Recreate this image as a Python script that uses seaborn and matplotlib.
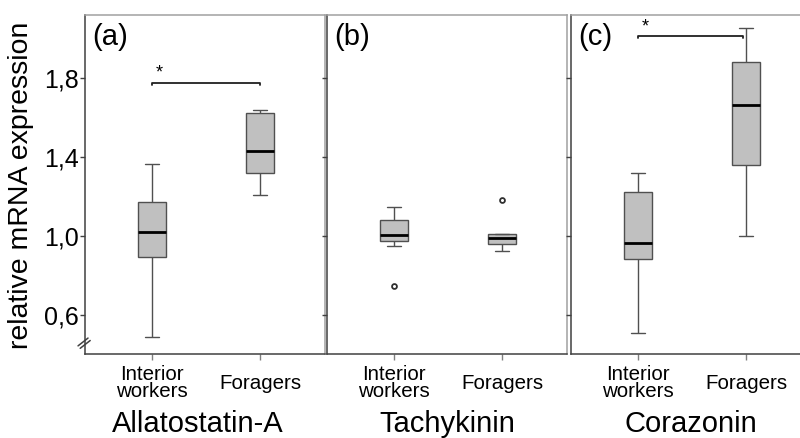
import pandas as pd
import matplotlib.pyplot as plt
import seaborn as sns

# relative mRNA expression per gene and group
genes = ['Allatostatin-A', 'Tachykinin', 'Corazonin']
panel_tags = ['(a)', '(b)', '(c)']
groups = ['Interior\nworkers', 'Foragers']

ast_interior = [0.487, 0.894, 1.022, 1.174, 1.363]
ast_foragers = [1.206, 1.319, 1.432, 1.624, 1.638]
tk_interior = [0.748, 0.948, 0.975, 0.975, 1.003, 1.079, 1.079, 1.145, 1.145]
tk_foragers = [0.924, 0.961, 0.961, 0.988, 0.988, 1.012, 1.012, 1.012, 1.184]
cz_interior = [0.507, 0.884, 0.965, 1.221, 1.321]
cz_foragers = [1.000, 1.359, 1.662, 1.879, 2.053]

# significance brackets (None = no bracket)
sig_level = [1.776, None, 2.013]
sig_end = [1.0, None, 0.97]

yticks = [0.6, 1.0, 1.4, 1.8]
ytick_labels = ['0,6', '1,0', '1,4', '1,8']

rows = []
for gene, vals_in, vals_fo in zip(genes,
                                  [ast_interior, tk_interior, cz_interior],
                                  [ast_foragers, tk_foragers, cz_foragers]):
    rows += [(gene, groups[0], v) for v in vals_in]
    rows += [(gene, groups[1], v) for v in vals_fo]
df = pd.DataFrame(rows, columns=['gene', 'group', 'expr'])

sns.set_style('white')
plt.rcParams['font.family'] = ['Liberation Sans', 'DejaVu Sans']
plt.rcParams['text.color'] = 'black'

fig = plt.figure(figsize=(8, 4.38), dpi=100)
lefts = [85, 327, 571]
label_x = [0.47, 0.5, 0.5]

for i, gene in enumerate(genes):
    ax = fig.add_axes([lefts[i] / 800, 84 / 438, 240 / 800, 339 / 438])
    sub = df[df['gene'] == gene]
    sns.boxplot(data=sub, x='group', y='expr', order=groups, ax=ax,
                width=0.26, color='#c0c0c0', saturation=1,
                linecolor='#505050', linewidth=1, fliersize=3.5,
                medianprops=dict(color='black', linewidth=2),
                flierprops=dict(marker='o', markerfacecolor='white',
                                markeredgecolor='#303030', markeredgewidth=1.3))
    ax.set_xlim(-0.62, 1.60)
    ax.set_ylim(0.4025, 2.119)
    ax.set_yticks(yticks)
    if i == 0:
        ax.set_yticklabels(ytick_labels, fontsize=18)
    else:
        ax.set_yticklabels([])
    ax.set_ylabel('')
    ax.tick_params(axis='y', direction='out', length=3.5, width=1,
                   color='#404040', pad=1, left=True, labelcolor='black')
    ax.tick_params(axis='x', direction='out', length=4, width=1,
                   color='#808080', pad=17, bottom=True, labelcolor='black')
    ax.set_xticks([0, 1])
    ax.set_xticklabels(groups, fontsize=14.8, va='center', linespacing=0.85)

    ax.set_xlabel(gene, fontsize=21, color='black')
    ax.xaxis.set_label_coords(label_x[i], -0.165)
    ax.xaxis.label.set_va('top')

    for side in ['left', 'bottom']:
        ax.spines[side].set_color('#404040')
        ax.spines[side].set_linewidth(1.1)
    for side in ['top', 'right']:
        ax.spines[side].set_color('#a0a0a0')
        ax.spines[side].set_linewidth(1.1)

    ax.text(0.03, 0.975, panel_tags[i], transform=ax.transAxes,
            fontsize=21, ha='left', va='top')

    if sig_level[i] is not None:
        y = sig_level[i]
        x1 = sig_end[i]
        ax.plot([0, 0, x1, x1], [y - 0.012, y, y, y - 0.012],
                color='#202020', linewidth=1.3)
        ax.text(0.07, y + 0.004, '*', ha='center', va='bottom', fontsize=13)

    if i == 0:
        # axis break marks on the left spine
        for off in [0.0, 0.009]:
            ax.plot([-0.029 + off, 0.0126 + off], [0.024 - off * 0.8, 0.047 - off * 0.8],
                    transform=ax.transAxes, clip_on=False,
                    color='#404040', linewidth=1.1)

fig.text(21 / 800, 1 - 185 / 438, 'relative mRNA expression', rotation=90,
         fontsize=20.5, ha='center', va='center')

plt.savefig('out.png', dpi=100)
